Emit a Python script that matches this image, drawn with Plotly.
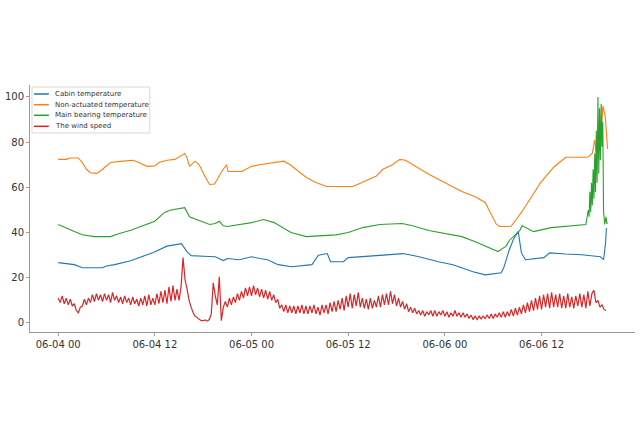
import numpy as np
import pandas as pd
import plotly.graph_objects as go

BASE = pd.Timestamp("2021-06-04 00:00")

# ---- data (hours since 06-04 00:00, value) ----
cabin_t = [0, 1.5, 2, 3, 5.5, 6, 7, 9, 11.8, 13.5, 15.3, 16, 16.5, 18, 19.5, 20.5, 21, 22.5,
           24, 25, 26, 27.3, 29, 31.5, 32.3, 33.4, 33.8, 35.4, 36, 39.5, 42.8, 44.8, 47.2,
           49, 50.1, 51.5, 53, 55, 55.3, 56, 56.5, 57.1, 57.5, 58, 60.3, 61, 63, 65, 67.3,
           67.7, 67.95, 68.05]
cabin_v = [26.7, 26.2, 25.8, 24.4, 24.4, 25.2, 25.8, 27.5, 31.2, 34, 35.1, 31.5, 29.8, 29.5,
           29.3, 27.6, 28.5, 28, 29.3, 28.5, 28, 25.8, 24.9, 25.8, 30, 30.7, 27.1, 27.1, 28.9,
           29.8, 30.7, 29.3, 27.1, 25.8, 24.5, 22.7, 21.3, 22.2, 24.4, 32.4, 36.9, 40.5, 31,
           28, 28.9, 31, 30.5, 30.2, 29.3, 28, 35.6, 42]

nonact_t = [0, 1, 1.5, 2.5, 3, 3.5, 4, 4.8, 5.5, 6.5, 8, 9.3, 10, 11, 12, 12.5, 13.5, 14.5,
            15, 15.4, 15.7, 16, 16.3, 17, 17.5, 18.2, 18.8, 19.4, 20.3, 20.9, 21.1, 22.8,
            24, 25, 26.8, 28, 28.8, 30.8, 32, 33.3, 36.6, 38.7, 39.5, 40.3, 41.5, 42.4,
            43.1, 46, 48.5, 50.1, 51.7, 53, 54.4, 54.8, 56.2, 57.5, 59.9, 61.5, 63, 65.7,
            66.3, 66.6, 66.8, 67.1, 67.3, 67.6, 67.9, 68.1, 68.2]
nonact_v = [72.4, 72.4, 73, 73, 71, 68, 66.5, 66.2, 68, 71, 71.6, 72, 71, 69.3, 69.5, 71, 72,
            72.4, 73.5, 74.5, 75, 73, 69.3, 71.6, 70, 65, 61.3, 61.5, 67, 70, 67, 67, 69.3,
            70, 71, 71.6, 70, 64.4, 62.2, 60.4, 60.4, 63.6, 65, 68, 70, 72.4, 72, 65.8, 61.3,
            58.2, 56, 53.3, 43.6, 42.7, 42.7, 48.9, 62.2, 68.9, 73.3, 73.3, 75, 81, 75, 87,
            75.6, 96, 91.6, 80, 77]

bearing_t = [0, 1, 2, 3, 4.5, 6.5, 7.5, 9, 10.5, 12, 13.2, 14, 15.7, 16.3, 17, 18.8, 19.5,
             20, 20.5, 21, 24, 25.5, 26.8, 28.9, 30.8, 34.5, 36, 37.8, 39.9, 42.7, 44, 46,
             50.1, 51.7, 54.6, 55.6, 56, 57.3, 57.6, 59, 61.2, 65.5, 65.8, 65.9, 66.0, 66.1,
             66.2, 66.3, 66.4, 66.5, 66.6, 66.7, 66.8, 66.9, 67.0, 67.1, 67.2, 67.3, 67.4,
             67.5, 67.6, 67.7, 67.85, 68.0, 68.1, 68.2]
bearing_v = [43.6, 42.2, 40.5, 39, 38.2, 38.2, 39.5, 41, 43, 45, 48.9, 50, 51, 47, 46, 43.6,
             44, 45, 43, 42.7, 44.4, 45.8, 44.4, 40, 38.2, 39, 40, 42.2, 43.6, 44, 43, 40.9,
             38.2, 36, 31.6, 34, 36.5, 41, 43, 40.4, 42.2, 43.6, 50, 47, 58, 49, 62, 52, 68,
             55, 75, 58, 85, 62, 100, 66, 95, 72, 97, 78, 89, 49, 43.6, 47, 44, 44.4]

# wind speed, one reading every 15 minutes from 06-04 00:00
wind_step_h = 0.25
wind_v = [
    11, 9, 12, 8.5,   11, 8, 10.5, 7.5,   8.5, 5.5, 4.5, 7,   7.5, 10.5, 8, 11,
    9, 12.5, 9.5, 13,   10, 12.5, 9.5, 13,   10, 12.5, 9, 13.5,   10, 12, 9, 11.5,
    8.5, 12, 9, 11,   8, 11.5, 8.5, 10.5,   7.5, 11, 8, 12,   7.5, 12.5, 8, 11,
    8, 13, 8.5, 14,   9, 14.5, 8.5, 16,   9.5, 16.5, 10, 15,   10, 16, 29, 19,
    15, 10, 7, 4.5,   3, 2.2, 1.5, 1,   1, 1.3, 0.8, 1.5,   4, 17.8, 12, 8,
    20.4, 1, 7, 9.5,   7, 11, 8, 11.5,   9, 13, 10, 14,   11, 15.5, 12, 16,
    12, 16.5, 12.5, 15.5,   11.5, 15, 11, 14.5,   10.5, 14, 10, 12.5,   9, 10.5, 6.5, 8,
    5, 8, 4.5, 7.5,   4.5, 7.5, 4, 7.5,   4.5, 8, 4, 7.5,   4, 7.5, 4.5, 8,
    4, 7, 3.5, 8,   4.5, 8, 4, 9,   5, 9.5, 5, 10,   6, 11, 5.5, 12,
    7, 13, 6.5, 12.5,   7.5, 13.5, 7, 11,   6.5, 10.5, 6, 11,   6.5, 10, 7, 12,
    7, 12.5, 8, 13,   8, 14, 8.5, 12.5,   7.5, 11, 7, 9.5,   6, 8.5, 5, 7,
    4.5, 6.5, 4, 5.5,   3.5, 5.5, 3, 5,   3.5, 5.5, 3, 5.5,   3, 5, 3.5, 5.5,
    3, 5, 2.5, 4.5,   3, 5.5, 3, 4.5,   2.5, 4.5, 2.5, 4,   2, 3.5, 1.5, 3,
    1.5, 3, 1.8, 3,   2, 3.5, 2, 4,   2, 4, 2.5, 4.5,   2.5, 5, 2.5, 5,
    3, 6, 3, 6.5,   3.5, 7, 4, 8,   4.5, 9, 5, 10,   5.5, 11, 6, 12,
    6, 12.5, 7, 13,   6.5, 13.5, 7, 12.5,   7, 13, 6.5, 12,   6.5, 13, 7, 11.5,
    6.5, 12, 7.5, 13,   7, 12.5, 6.5, 14,   7.5, 13, 14.5, 9,   10, 7, 8, 6,
    5.5,
]

series_names = ["Cabin temperature", "Non-actuated temperature",
                "Main bearing temperature", "The wind speed"]
colors = ["#1f77b4", "#ff7f0e", "#2ca02c", "#d62728"]

def to_dt(hours):
    return BASE + pd.to_timedelta(np.asarray(hours, dtype=float), unit="h")

wind_t = np.arange(len(wind_v)) * wind_step_h

series = [(cabin_t, cabin_v), (nonact_t, nonact_v), (bearing_t, bearing_v), (wind_t, wind_v)]
widths = [1.1, 1.1, 1.1, 1.2]

fig = go.Figure()
for (t, v), name, c, w in zip(series, series_names, colors, widths):
    fig.add_trace(go.Scatter(x=to_dt(t), y=v, mode="lines", name=name,
                             line=dict(color=c, width=w), showlegend=False))

# plot-area geometry in pixels
L, R, T, B = 24, 635, 85, 332
W, H = 640, 432

def px_x(px):
    return (px - L) / (R - L)

def px_y(py):
    return (B - py) / (B - T)

# manual legend (matplotlib style)
shapes = [dict(type="rect", xref="paper", yref="paper",
               x0=px_x(26), x1=px_x(145), y0=px_y(133), y1=px_y(87),
               line=dict(color="#d9d9d9", width=1), fillcolor="rgba(255,255,255,0.85)",
               layer="above")]
annotations = []
entry_y = [94, 104.7, 115.3, 126.3]
for name, c, ey in zip(series_names, colors, entry_y):
    shapes.append(dict(type="line", xref="paper", yref="paper",
                       x0=px_x(28), x1=px_x(43), y0=px_y(ey), y1=px_y(ey),
                       line=dict(color=c, width=1.5), layer="above"))
    annotations.append(dict(xref="paper", yref="paper", x=px_x(47), y=px_y(ey),
                            xanchor="left", yanchor="middle", showarrow=False,
                            text=name, font=dict(size=7, color="#333333")))

fig.update_layout(
    width=W, height=H,
    margin=dict(l=L, r=W - R, t=T, b=H - B, pad=0),
    paper_bgcolor="white", plot_bgcolor="white",
    font=dict(family="DejaVu Sans", size=10, color="#333333"),
    shapes=shapes, annotations=annotations,
    showlegend=False,
)
fig.update_xaxes(
    range=[to_dt([-3.5])[0], to_dt([71.6])[0]],
    type="date", tick0=BASE, dtick=12 * 3600 * 1000, tickformat="%m-%d %H",
    showgrid=False, zeroline=False, showline=True, linecolor="#9a9a9a", linewidth=1,
    ticks="outside", ticklen=3, tickcolor="#9a9a9a", tickfont=dict(size=10, color="#333333"),
)
fig.update_yaxes(
    range=[-4, 105.3], tickvals=[0, 20, 40, 60, 80, 100],
    showgrid=False, zeroline=False, showline=True, linecolor="#9a9a9a", linewidth=1,
    ticks="outside", ticklen=3, tickcolor="#9a9a9a", tickfont=dict(size=10, color="#333333"),
)

fig.write_html("out.html")
